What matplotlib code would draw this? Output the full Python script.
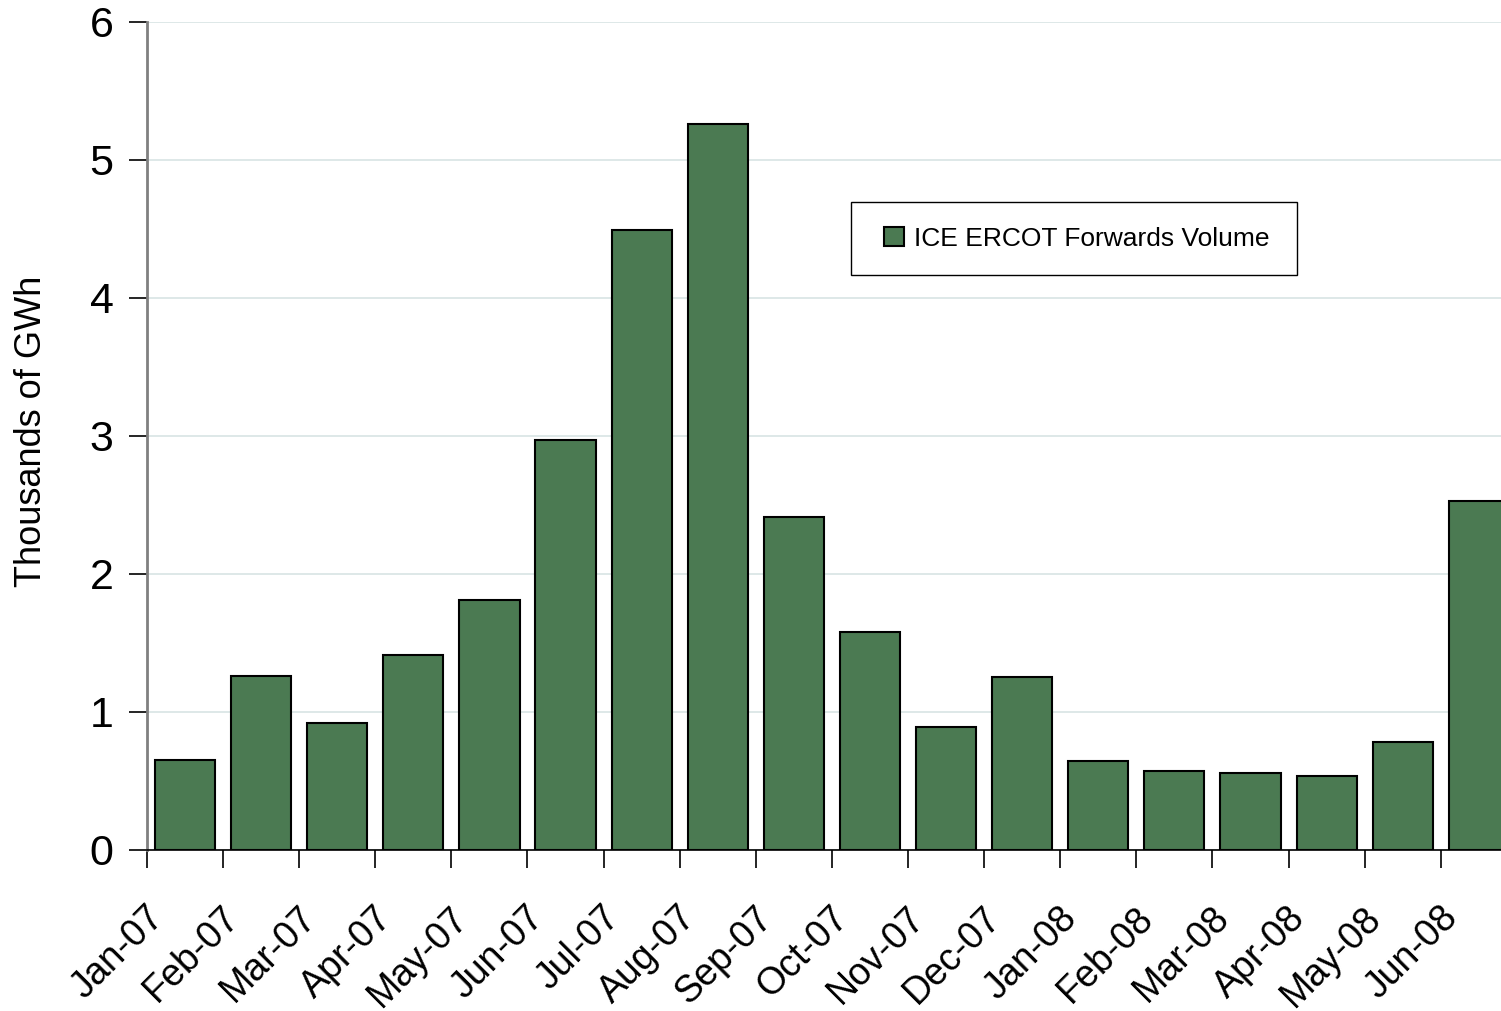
import numpy as np
import matplotlib.pyplot as plt
import matplotlib.transforms as mtransforms
from matplotlib.patches import Rectangle

plt.rcParams['font.family'] = ['Liberation Sans', 'DejaVu Sans']

months = ['Jan-07', 'Feb-07', 'Mar-07', 'Apr-07', 'May-07', 'Jun-07',
          'Jul-07', 'Aug-07', 'Sep-07', 'Oct-07', 'Nov-07', 'Dec-07',
          'Jan-08', 'Feb-08', 'Mar-08', 'Apr-08', 'May-08', 'Jun-08']
volume = [0.65, 1.26, 0.92, 1.41, 1.81, 2.97,
          4.49, 5.26, 2.41, 1.58, 0.89, 1.25,
          0.645, 0.57, 0.56, 0.535, 0.78, 2.53]

fig = plt.figure(figsize=(15.01, 10.11), dpi=100)
# axes runs a bit past the right edge, like the original (last bar is cut)
ax = fig.add_axes([0.0979, 0.1593, 0.9127, 0.819])

x = np.arange(len(months))
ax.bar(x, volume, width=0.79, color='#4b7a52', edgecolor='black',
       linewidth=1.5, label='ICE ERCOT Forwards Volume', zorder=3)

ax.set_xlim(-0.5, len(months) - 0.5)
ax.set_ylim(0, 6)
ax.set_yticks(range(7))
ax.tick_params(axis='y', labelsize=31, length=13, width=1.2, direction='out', pad=11)
ax.grid(axis='y', color='#d8e4e4', linewidth=1.2, zorder=0)

# tick marks between bars, labels under bars
ax.set_xticks(x - 0.5)
ax.set_xticklabels([])
ax.tick_params(axis='x', which='major', length=13, width=1.2, direction='out')
ax.set_xticks(x, minor=True)
ax.set_xticklabels(months, minor=True, rotation=45, ha='right', va='center',
                   rotation_mode='anchor', fontsize=27)
ax.tick_params(axis='x', which='minor', length=0, pad=45)
shift = mtransforms.ScaledTranslation(-27 / 100, 0, fig.dpi_scale_trans)
for lab in ax.get_xticklabels(minor=True):
    lab.set_transform(lab.get_transform() + shift)

for s in ['top', 'right']:
    ax.spines[s].set_visible(False)
ax.spines['left'].set_color('#808080')
ax.spines['left'].set_linewidth(2)
ax.spines['bottom'].set_linewidth(1.2)

ax.set_ylabel('Thousands of GWh', fontsize=26, va='center')
ax.yaxis.set_label_coords(32 / 1501, 1 - 431 / 1011, transform=fig.transFigure)

# legend box drawn as a plain rectangle, entry placed inside it
fig.patches.append(Rectangle((851 / 1501, 1 - 275 / 1011), 446 / 1501, 73 / 1011,
                             transform=fig.transFigure, facecolor='white',
                             edgecolor='black', linewidth=1.0, zorder=5))
leg = fig.legend(loc='center left', bbox_to_anchor=(884 / 1501, 1 - 239 / 1011),
                 fontsize=19, frameon=False, handlelength=0.75, handleheight=0.75,
                 handletextpad=0.4, borderpad=0, borderaxespad=0)
leg.set_zorder(6)

fig.savefig('out.png', dpi=100)
